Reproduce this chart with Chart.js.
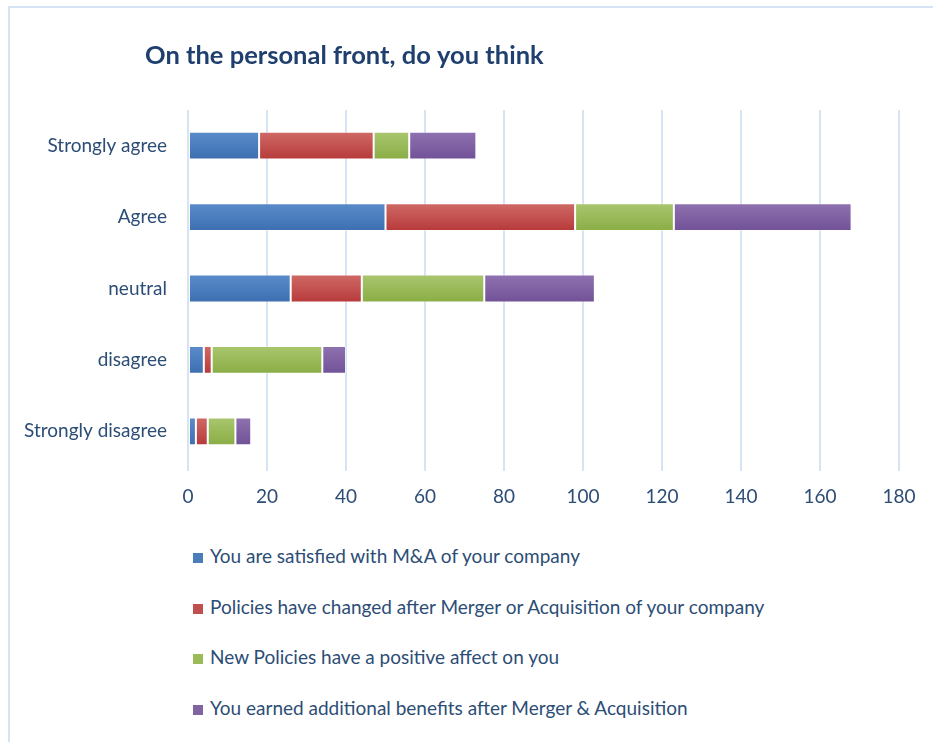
<!DOCTYPE html>
<html>
<head>
<meta charset="utf-8">
<script src="https://cdn.jsdelivr.net/npm/chart.js@4.4.1/dist/chart.umd.min.js"></script>
<style>
  body { margin: 0; background: #fff; font-family: Lato, sans-serif; }
  #wrap { position: relative; width: 933px; height: 742px; overflow: hidden; }
  #frame { position: absolute; left: 8px; top: 6px; width: 1000px; height: 800px;
           border-top: 2px solid #d6e3f5; border-left: 2px solid #d6e3f5; }
  #box { position: absolute; left: 0; top: 0; width: 933px; height: 520px; }
  #legend { position: absolute; left: 193px; top: 544px; list-style: none; margin: 0; padding: 0; }
  #legend li { height: 50.5px; font-size: 19px; color: #2c4d75; white-space: nowrap; }
  #legend span { display: inline-block; width: 10px; height: 10px; margin-right: 7px; }
</style>
</head>
<body>
<div id="wrap">
  <div id="frame"></div>
  <div id="box"><canvas id="barChart"></canvas></div>
  <ul id="legend"></ul>
</div>
<script>
const categories = ['Strongly agree', 'Agree', 'neutral', 'disagree', 'Strongly disagree'];
const seriesNames = [
    'You are satisfied  with M&A of your company',
    'Policies have changed after Merger or Acquisition of your company',
    'New Policies have a positive affect on you',
    'You earned additional benefits after Merger & Acquisition'
];
const satisfied = [18, 50, 26, 4, 2];
const policiesChanged = [29, 48, 18, 2, 3];
const positiveAffect = [9, 25, 31, 28, 7];
const extraBenefits = [17, 45, 28, 6, 4];
const xTicks = [0, 20, 40, 60, 80, 100, 120, 140, 160, 180];

const colors = [
    ['#5a8ccb', '#3c6fb0', '#4a7ebb'],
    ['#cf6a66', '#b7393a', '#c0504d'],
    ['#a9c66e', '#8aad45', '#9bbb59'],
    ['#8f72b0', '#715197', '#8064a2']
];

//vertical gradient for each bar, like the office style
function barFill(i) {
    return function (c) {
        const chart = c.chart;
        const y = chart.scales && chart.scales.y;
        if (!y || c.type !== 'data') return colors[i][2];
        const cy = y.getPixelForValue(c.dataIndex);
        const half = y.height / categories.length * 0.39 / 2;
        if (!isFinite(cy) || !isFinite(half) || half <= 0) return colors[i][2];
        const g = chart.ctx.createLinearGradient(0, cy - half, 0, cy + half);
        g.addColorStop(0, colors[i][0]);
        g.addColorStop(1, colors[i][1]);
        return g;
    };
}

const allSeries = [satisfied, policiesChanged, positiveAffect, extraBenefits];

const titlePlugin = {
    id: 'leftTitle',
    afterDraw(chart) {
        const ctx = chart.ctx;
        ctx.save();
        ctx.font = 'bold 25.5px Lato';
        ctx.fillStyle = '#1f3f6e';
        ctx.textBaseline = 'middle';
        ctx.fillText('On the personal front, do you think', 145, 56);
        ctx.restore();
    }
};

//legend below the chart, one item per line
const legendEl = document.getElementById('legend');
seriesNames.forEach((name, i) => {
    const li = document.createElement('li');
    const sw = document.createElement('span');
    sw.style.background = colors[i][2];
    li.appendChild(sw);
    li.appendChild(document.createTextNode(name));
    legendEl.appendChild(li);
});

const ctx = document.getElementById('barChart').getContext('2d');
const barChart = new Chart(ctx, {
    type: 'bar',
    data: {
        labels: categories,
        datasets: allSeries.map((d, i) => ({
            label: seriesNames[i],
            data: d,
            backgroundColor: barFill(i),
            borderColor: 'rgba(255,255,255,0.45)',
            borderWidth: 1,
            borderSkipped: false,
            categoryPercentage: 1,
            barPercentage: 0.39
        }))
    },
    options: {
        indexAxis: 'y',
        responsive: true,
        maintainAspectRatio: false,
        animation: false,
        layout: { padding: { top: 110, right: 34, left: 0, bottom: 0 } },
        scales: {
            x: {
                stacked: true,
                min: 0,
                max: 180,
                afterBuildTicks: s => { s.ticks = xTicks.map(v => ({ value: v })); },
                afterFit: s => { s.height = 53; },
                grid: { color: '#d6e3f5', lineWidth: 2, tickLength: 4, drawTicks: true },
                border: { display: false },
                ticks: { color: '#2c4d75', font: { family: 'Lato', size: 19 }, padding: 14 }
            },
            y: {
                stacked: true,
                afterFit: s => { s.width = 188; },
                grid: { display: false },
                border: { display: false },
                ticks: { color: '#2c4d75', font: { family: 'Lato', size: 19 }, padding: 13 }
            }
        },
        plugins: {
            legend: { display: false },
            tooltip: { enabled: false }
        }
    },
    plugins: [titlePlugin]
});
</script>
</body>
</html>
